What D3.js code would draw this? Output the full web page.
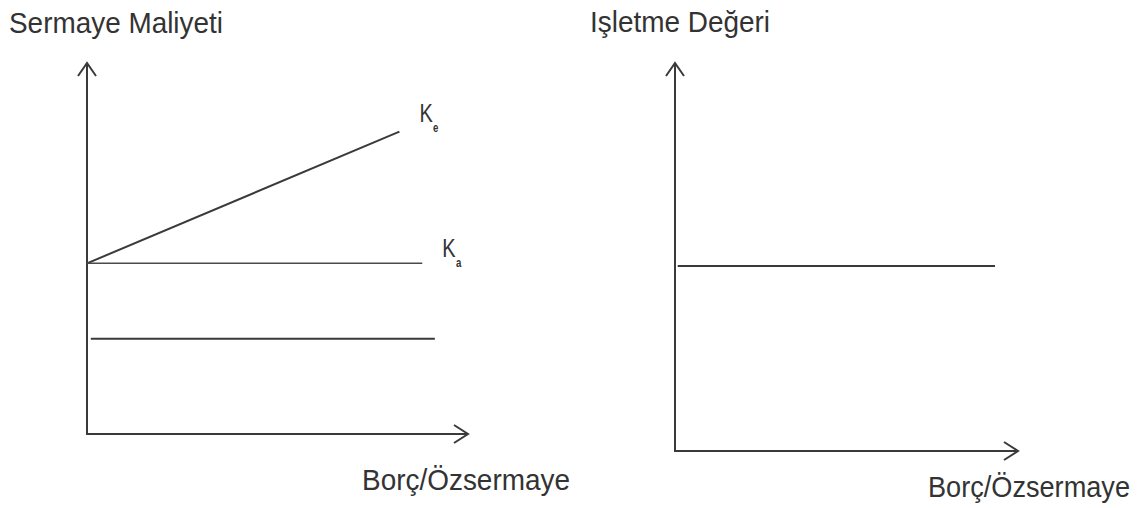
<!DOCTYPE html>
<html><head><meta charset="utf-8">
<script src="https://cdn.jsdelivr.net/npm/d3@7"></script>
<style>
html,body{margin:0;padding:0;background:#fff;}
text{font-family:"Liberation Sans",Arial,sans-serif;fill:#333;}
</style></head>
<body>
<svg id="chart" width="1143" height="508"></svg>
<script>
// ---- Data ----
const leftTitles = ["Sermaye Maliyeti", "Borç/Özsermaye"];
const rightTitles = ["Işletme Değeri", "Borç/Özsermaye"];
// Left panel (cost of capital vs debt/equity), x and y on 0..10
const keX = [0, 8.2];      const keY = [4.6, 8.15];
const kaX = [0, 8.8];      const kaY = [4.6, 4.6];
const kdX = [0.1, 9.13];   const kdY = [2.57, 2.57];
const lineLabels = ["K", "K"];
const lineSubs = ["e", "a"];
// Right panel (firm value vs debt/equity)
const vX = [0.08, 9.33];   const vY = [4.77, 4.77];

const svg = d3.select("#chart");
const stroke = "#3a3a3a";

function panel(xr, yr) {
  const x = d3.scaleLinear().domain([0, 10]).range(xr);
  const y = d3.scaleLinear().domain([0, 10]).range(yr);
  return {x, y};
}
function axes(p, xmax, ymax) {
  const g = svg.append("g");
  const x0 = p.x(0), y0 = p.y(0), xe = p.x(xmax), ye = p.y(ymax);
  g.append("path").attr("d", `M${x0},${ye}V${y0}H${xe}`)
    .attr("fill", "none").attr("stroke", stroke).attr("stroke-width", 2);
  g.append("path").attr("d", `M${x0-9},${ye+13}L${x0},${ye}L${x0+9},${ye+13}`)
    .attr("fill", "none").attr("stroke", stroke).attr("stroke-width", 2);
  g.append("path").attr("d", `M${xe-14},${y0-9}L${xe},${y0}L${xe-14},${y0+9}`)
    .attr("fill", "none").attr("stroke", stroke).attr("stroke-width", 2);
}
function seg(p, xs, ys, w, c) {
  const line = d3.line().x(d => p.x(d[0])).y(d => p.y(d[1]));
  svg.append("path").datum(d3.zip(xs, ys)).attr("d", line)
    .attr("fill", "none").attr("stroke", c).attr("stroke-width", w);
}
function title(x, y, size, len, s) {
  svg.append("text").attr("x", x).attr("y", y).attr("font-size", size)
    .attr("textLength", len).attr("lengthAdjust", "spacingAndGlyphs").text(s);
}

// Left panel
const L = panel([87, 468], [434, 63]);
axes(L, 10, 10);
seg(L, keX, keY, 2, stroke);
seg(L, kaX, kaY, 1.5, "#4a4a4a");
seg(L, kdX, kdY, 2, stroke);

title(9, 33, 29, 214, leftTitles[0]);
title(362, 490, 29, 208, leftTitles[1]);

// line labels
const labPos = [[L.x(keX[1]) + 20, L.y(keY[1]) - 10], [L.x(kaX[1]) + 20, L.y(kaY[1]) - 6]];
labPos.forEach((pos, i) => {
  const g = svg.append("g").attr("transform", `translate(${pos[0]},${pos[1]}) scale(0.8,1)`);
  g.append("text").attr("x", 0).attr("y", 0).attr("font-size", 25).attr("fill", "#444").text(lineLabels[i]);
  g.append("text").attr("x", 17).attr("y", 10).attr("font-size", 12).attr("font-weight", "bold")
    .attr("fill", "#444").text(lineSubs[i]);
});

// Right panel
const R = panel([675, 1018], [451, 63]);
axes(R, 10, 10);
seg(R, vX, vY, 2, stroke);

title(590, 32, 29, 180, rightTitles[0]);
title(928, 497, 29, 202, rightTitles[1]);
</script>
</body></html>
